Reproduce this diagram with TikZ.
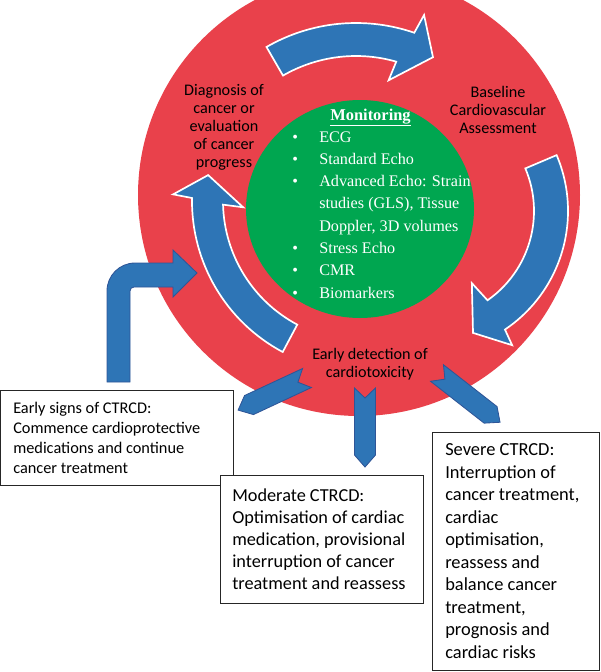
\documentclass[tikz,border=0pt]{standalone}
\usepackage{fontspec}
\setmainfont{Carlito}
\newfontfamily\timesf{Liberation Serif}

\definecolor{ringred}{RGB}{233,65,75}
\definecolor{monigreen}{RGB}{0,166,80}
\definecolor{arrowblue}{RGB}{46,117,182}
\definecolor{edgeblue}{RGB}{47,85,151}

\tikzset{
  bigarrow/.style={fill=arrowblue, draw=white, line width=1.2pt},
  blockarrow/.style={fill=arrowblue, draw=edgeblue, line width=0.6pt},
  ringtext/.style={align=center, inner sep=0pt, font=\fontsize{11.5}{12.8}\selectfont},
  stagebox/.style={draw=black!85, fill=white, line width=0.7pt, anchor=north west, inner sep=0pt},
  stagetext/.style={align=left, anchor=west, inner sep=0pt},
  moni/.style={anchor=base west, text=white, inner sep=0pt, font=\timesf\fontsize{11.5}{14}\selectfont},
  pics/chev/.style={code={
    \path[blockarrow] (0,10.5) -- (#1-12,10.5) -- (#1,0) -- (#1-12,-10.5) -- (0,-10.5) -- (10,0) -- cycle;}}
}

\begin{document}
\begin{tikzpicture}[x=0.025cm, y=0.025cm]
    \useasboundingbox (0,0) rectangle (600,-672);
    \clip (0,0) rectangle (600,-672);

    % ring and centre
    \fill[ringred] (359,-195) circle[radius=221];
    \fill[monigreen] (360,-209) ellipse[x radius=114, y radius=109];

    % cycle arrows
    \begin{scope}[shift={(356,-202)}]
        \path[bigarrow] (120:179) arc[start angle=120, end angle=71, radius=179]
            -- (70:199) -- (62:164) -- (75:126) -- (74:146)
            arc[start angle=74, end angle=120, radius=146] -- cycle;
    \end{scope}
    \begin{scope}[shift={(425,-211)}]
        \path[bigarrow] (23:143) arc[start angle=23, end angle=-56, radius=143]
            -- (-57:160) -- (-68.5:131) -- (-57:86) -- (-55:109)
            arc[start angle=-55, end angle=23, radius=109] -- cycle;
    \end{scope}
    \begin{scope}[shift={(363,-201)}]
        \path[bigarrow] (242:171) arc[start angle=242, end angle=179, radius=171]
            -- (178:190) -- (170.5:157) -- (183:120) -- (181.5:140)
            arc[start angle=181.5, end angle=242, radius=140] -- cycle;
    \end{scope}

    % outgoing arrows
    \pic[rotate=205] (toearly) at (307,-378) {chev=76};
    \pic[rotate=270] (tomod) at (365,-388) {chev=79};
    \pic[rotate=-38] (tosev) at (437,-373) {chev=80};

    % back into the cycle
    \path[blockarrow] (107,-382) -- (107,-291) arc[start angle=180, end angle=90, radius=28]
        -- (173,-263) -- (173,-250) -- (197,-273) -- (173,-297) -- (173,-287)
        -- (134,-287) arc[start angle=90, end angle=180, radius=4] -- (130,-382) -- cycle;

    % ring labels
    \node[ringtext] (diag) at (224,-127) {Diagnosis of\\cancer or\\evaluation\\of cancer\\progress};
    \node[ringtext] (base) at (498,-110) {Baseline\\Cardiovascular\\Assessment};
    \node[ringtext] (early) at (370,-364) {Early detection of\\cardiotoxicity};

    % monitoring list
    \node[moni, font=\timesf\bfseries\fontsize{11.7}{14}\selectfont] (mtitle) at (330,-120) {\underline{Monitoring}};
    \foreach \b/\t [count=\i] in {1/ECG, 1/Standard Echo, 1/{Advanced Echo: Strain},
            0/{studies (GLS), Tissue}, 0/{Doppler, 3D volumes}, 1/Stress Echo, 1/CMR, 1/Biomarkers} {
        \node[moni] (m\i) at (319,{-142-22.3*(\i-1)}) {\t};
        \ifnum\b=1 \node[moni] (dot\i) at (292,{-142-22.3*(\i-1)}) {\textbullet}; \fi
    }

    % outcome boxes
    \node[stagebox, minimum width=5.8cm, minimum height=2.375cm] (mild) at (0.5,-390) {};
    \node[stagetext, font=\fontsize{11.6}{14.2}\selectfont] (mildtext) at (13,-437.5)
        {Early signs of CTRCD:\\Commence cardioprotective\\medications and continue\\cancer treatment};
    \node[stagebox, minimum width=5.075cm, minimum height=3.2cm] (mod) at (220,-475) {};
    \node[stagetext, font=\fontsize{13}{15.6}\selectfont] (modtext) at (232,-539)
        {Moderate CTRCD:\\Optimisation of cardiac\\medication, provisional\\interruption of cancer\\treatment and reassess};
    \node[stagebox, minimum width=4.175cm, minimum height=5.95cm] (sev) at (432,-432) {};
    \node[stagetext, font=\fontsize{13.1}{16}\selectfont] (sevtext) at (445,-551)
        {Severe CTRCD:\\Interruption of\\cancer treatment,\\cardiac\\optimisation,\\reassess and\\balance cancer\\treatment,\\prognosis and\\cardiac risks};
\end{tikzpicture}
\end{document}
